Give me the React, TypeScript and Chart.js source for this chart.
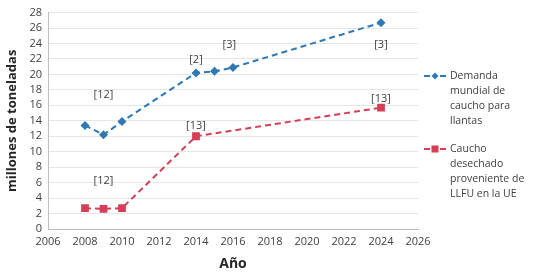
import React, { useEffect, useRef } from "react";
import { Chart, registerables } from "chart.js";

Chart.register(...registerables);

const demandYears = [2008, 2009, 2010, 2014, 2015, 2016, 2024];
const demandValues = [13.4, 12.2, 13.9, 20.2, 20.4, 20.9, 26.7];
const wasteYears = [2008, 2009, 2010, 2014, 2024];
const wasteValues = [2.7, 2.6, 2.7, 12.0, 15.7];

const seriesNames = [
  ["Demanda", "mundial de", "caucho para", "llantas"],
  ["Caucho", "desechado", "proveniente de", "LLFU en la UE"],
];

// reference annotations: [year, value, text]
const noteYears = [2009, 2014, 2015.8, 2024, 2014, 2024, 2009];
const noteValues = [17.3, 21.9, 23.8, 23.8, 13.4, 16.9, 6.2];
const noteTexts = ["[12]", "[2]", "[3]", "[3]", "[13]", "[13]", "[12]"];

const BLUE = "#2E78B4";
const RED = "#D53F56";
const FONT = "'Open Sans', 'Liberation Sans', sans-serif";

const notesPlugin = {
  id: "notes",
  afterDatasetsDraw(chart: any) {
    const { ctx, scales } = chart;
    ctx.save();
    ctx.font = `11px ${FONT}`;
    ctx.fillStyle = "#404040";
    ctx.textAlign = "center";
    ctx.textBaseline = "middle";
    noteTexts.forEach((t, i) => {
      ctx.fillText(t, scales.x.getPixelForValue(noteYears[i]), scales.y.getPixelForValue(noteValues[i]));
    });
    ctx.restore();
  },
};

const legendPlugin = {
  id: "sideLegend",
  afterDraw(chart: any) {
    const { ctx } = chart;
    ctx.save();
    ctx.font = `10.5px ${FONT}`;
    ctx.textBaseline = "middle";
    ctx.textAlign = "left";
    const starts = [76, 149];
    const colors = [BLUE, RED];
    seriesNames.forEach((lines, s) => {
      const y = starts[s];
      ctx.strokeStyle = colors[s];
      ctx.lineWidth = 2;
      ctx.beginPath();
      ctx.moveTo(424, y);
      ctx.lineTo(430, y);
      ctx.moveTo(440, y);
      ctx.lineTo(446, y);
      ctx.stroke();
      ctx.fillStyle = colors[s];
      if (s === 0) {
        ctx.beginPath();
        ctx.moveTo(435, y - 3.5);
        ctx.lineTo(438.5, y);
        ctx.lineTo(435, y + 3.5);
        ctx.lineTo(431.5, y);
        ctx.closePath();
        ctx.fill();
      } else {
        ctx.fillRect(431.5, y - 3.5, 7, 7);
      }
      ctx.fillStyle = "#404040";
      lines.forEach((l, k) => ctx.fillText(l, 450, y + k * 15));
    });
    ctx.restore();
  },
};

export default function App() {
  const ref = useRef<HTMLCanvasElement>(null);
  useEffect(() => {
    document.body.style.margin = "0";
    const chart = new Chart(ref.current!, {
      type: "line",
      data: {
        datasets: [
          {
            label: seriesNames[0].join(" "),
            data: demandYears.map((x, i) => ({ x, y: demandValues[i] })),
            borderColor: BLUE,
            backgroundColor: BLUE,
            borderWidth: 2,
            borderDash: [6, 4],
            pointStyle: "rectRot",
            pointRadius: 4.5,
            pointBorderWidth: 0,
            tension: 0,
          },
          {
            label: seriesNames[1].join(" "),
            data: wasteYears.map((x, i) => ({ x, y: wasteValues[i] })),
            borderColor: RED,
            backgroundColor: RED,
            borderWidth: 2,
            borderDash: [6, 4],
            pointStyle: "rect",
            pointRadius: 5.5,
            pointBorderWidth: 0,
            tension: 0,
          },
        ],
      },
      options: {
        animation: false,
        responsive: false,
        layout: { padding: { top: 2, right: 119, left: 4, bottom: 0 } },
        plugins: { legend: { display: false }, tooltip: { enabled: false } },
        scales: {
          x: {
            type: "linear",
            min: 2006,
            max: 2026,
            ticks: {
              stepSize: 2,
              autoSkip: false,
              color: "#404040",
              font: { family: FONT, size: 11 },
              padding: 2,
              maxRotation: 0,
              callback: (v: any) => String(v),
            },
            grid: { display: false, drawTicks: true, tickLength: 4, color: "#BFBFBF" },
            border: { color: "#BFBFBF" },
            title: { display: true, text: "Año", color: "#262626", font: { family: FONT, size: 14, weight: "bold" }, padding: { top: 2 } },
            afterFit(scale: any) {
              scale.height = 47;
            },
          },
          y: {
            min: 0,
            max: 28,
            ticks: { stepSize: 2, autoSkip: false, color: "#404040", font: { family: FONT, size: 11 }, padding: 6 },
            grid: { color: "#E6E6E6", drawTicks: false },
            border: { color: "#BFBFBF" },
            title: { display: true, text: "millones de toneladas", color: "#262626", font: { family: FONT, size: 13, weight: "bold" }, padding: 0 },
            afterFit(scale: any) {
              scale.width = 44;
            },
          },
        },
      },
      plugins: [notesPlugin, legendPlugin],
    } as any);
    return () => chart.destroy();
  }, []);
  return <canvas ref={ref} width={537} height={276} style={{ display: "block" }} />;
}
